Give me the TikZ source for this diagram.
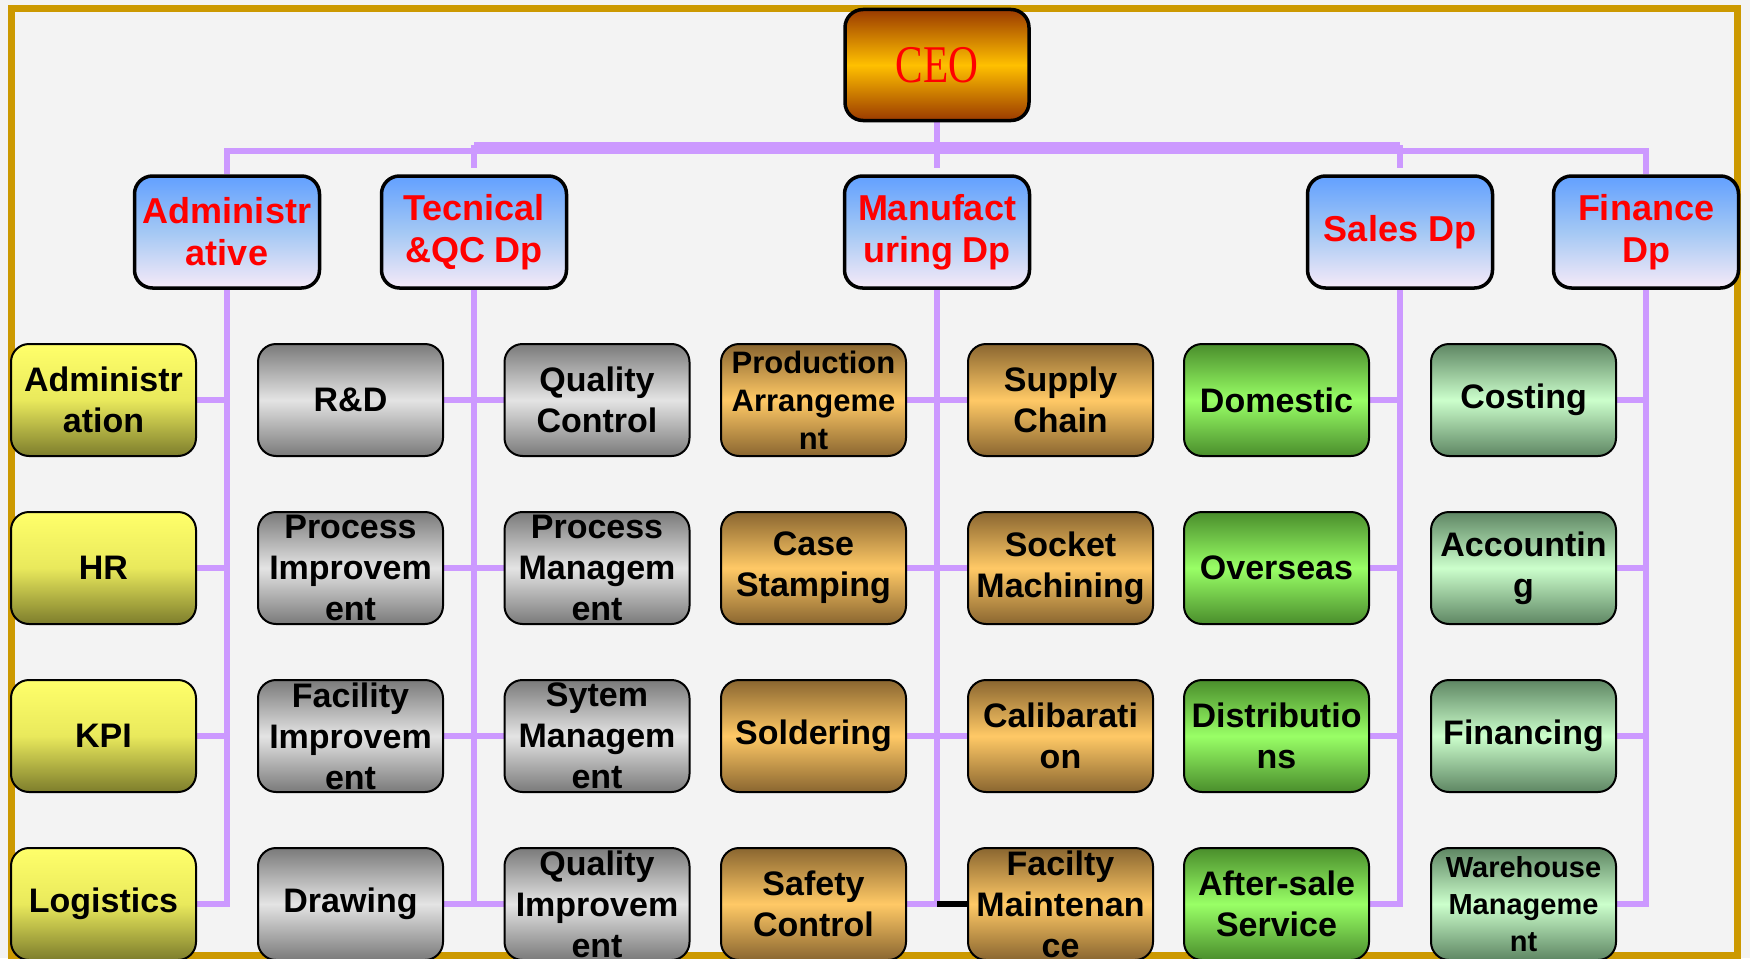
\documentclass[tikz,border=0pt]{standalone}
\usepackage{fontspec}
\usepackage{graphicx}
\setmainfont{Liberation Sans}
\newfontfamily\ceofont{Liberation Serif}
\usetikzlibrary{calc}
\definecolor{bgc}{HTML}{F3F3F3}
\definecolor{goldc}{HTML}{CC9900}
\definecolor{vio}{HTML}{CC99FF}
\definecolor{ceoE}{HTML}{9A3A00}
\definecolor{ceoM}{HTML}{FFC000}
\definecolor{depT}{HTML}{62A0FF}
\definecolor{depM}{HTML}{A4C8F4}
\definecolor{depB}{HTML}{F6EAF8}
\definecolor{yelT}{HTML}{FFFF6A}
\definecolor{yelM}{HTML}{E9E95C}
\definecolor{yelB}{HTML}{7D7D2C}
\definecolor{grE}{HTML}{7A7A7A}
\definecolor{grM}{HTML}{E4E4E4}
\definecolor{orE}{HTML}{8A6630}
\definecolor{orM}{HTML}{FFC966}
\definecolor{gnE}{HTML}{4A8E2C}
\definecolor{gnM}{HTML}{99FF66}
\definecolor{lgE}{HTML}{5E8663}
\definecolor{lgM}{HTML}{CCFFCC}
\pgfdeclarelayer{back}
\pgfsetlayers{back,main}
\tikzset{
  box/.style={rounded corners=18pt, draw=black, line width=2pt,
    minimum width=185pt, minimum height=112pt, inner sep=0pt, align=center,
    font=\fontsize{34}{41}\selectfont\bfseries},
  smalltext/.style={font=\fontsize{31}{38}\selectfont\bfseries},
  tinytext/.style={font=\fontsize{29}{37}\selectfont\bfseries},
  ceobox/.style={box, line width=3.5pt, minimum width=184pt, minimum height=111pt,
    top color=ceoE, bottom color=ceoE, middle color=ceoM, text=red,
    font=\ceofont\fontsize{53}{60}\selectfont},
  dept/.style={box, line width=3.5pt, top color=depT, bottom color=depB, middle color=depM,
    text=red, font=\fontsize{36}{42}\selectfont\bfseries},
  yel/.style={box, top color=yelT, bottom color=yelB, middle color=yelM},
  gry/.style={box, top color=grE, bottom color=grE, middle color=grM},
  org/.style={box, top color=orE, bottom color=orE, middle color=orM},
  grn/.style={box, top color=gnE, bottom color=gnE, middle color=gnM},
  lgr/.style={box, top color=lgE, bottom color=lgE, middle color=lgM},
  conn/.style={draw=vio, line width=6pt, line join=miter},
  bus/.style={draw=vio, line width=5.5pt, line join=miter},
  blackconn/.style={draw=black, line width=6pt}
}
\begin{document}
\begin{tikzpicture}[x=1pt,y=-1pt]
\useasboundingbox (0,0) rectangle (1750,958);
\clip (0,0) rectangle (1750,958);
% nodes
\node[ceobox] (ceo) at (937,65) {\scalebox{0.78}[1]{CEO}};
\node[dept] (adm) at (227,232) {Administr\\ative};
\node[dept] (tec) at (474,232) {Tecnical\\\&QC Dp};
\node[dept] (man) at (937,232) {Manufact\\uring Dp};
\node[dept] (sal) at (1400,232) {Sales Dp};
\node[dept] (fin) at (1646,232) {Finance\\Dp};
% column 1
\node[yel] (a1) at (103.5,400) {Administr\\ation};
\node[yel] (a2) at (103.5,568) {HR};
\node[yel] (a3) at (103.5,736) {KPI};
\node[yel] (a4) at (103.5,904) {Logistics};
% column 2
\node[gry] (b1) at (350.5,400) {R\&D};
\node[gry] (b2) at (350.5,568) {Process\\Improvem\\ent};
\node[gry] (b3) at (350.5,736) {Facility\\Improvem\\ent};
\node[gry] (b4) at (350.5,904) {Drawing};
% column 3
\node[gry] (c1) at (597,400) {Quality\\Control};
\node[gry] (c2) at (597,568) {Process\\Managem\\ent};
\node[gry] (c3) at (597,736) {Sytem\\Managem\\ent};
\node[gry] (c4) at (597,904) {Quality\\Improvem\\ent};
% column 4
\node[org, smalltext] (d1) at (813.5,400) {Production\\Arrangeme\\nt};
\node[org] (d2) at (813.5,568) {Case\\Stamping};
\node[org] (d3) at (813.5,736) {Soldering};
\node[org] (d4) at (813.5,904) {Safety\\Control};
% column 5
\node[org] (e1) at (1060.5,400) {Supply\\Chain};
\node[org] (e2) at (1060.5,568) {Socket\\Machining};
\node[org] (e3) at (1060.5,736) {Calibarati\\on};
\node[org] (e4) at (1060.5,904) {Facilty\\Maintenan\\ce};
% column 6
\node[grn] (f1) at (1276.5,400) {Domestic};
\node[grn] (f2) at (1276.5,568) {Overseas};
\node[grn] (f3) at (1276.5,736) {Distributio\\ns};
\node[grn] (f4) at (1276.5,904) {After-sale\\Service};
% column 7
\node[lgr] (g1) at (1523.5,400) {Costing};
\node[lgr] (g2) at (1523.5,568) {Accountin\\g};
\node[lgr] (g3) at (1523.5,736) {Financing};
\node[lgr, tinytext] (g4) at (1523.5,904) {Warehouse\\Manageme\\nt};
\begin{pgfonlayer}{back}
  \fill[bgc] (0,0) rectangle (1750,958);
  \draw[goldc, line width=7pt] (11,9) rectangle (1737,955);
  % top bus
  \coordinate (u1) at (474,145);
  \coordinate (u2) at (1400,145);
  \coordinate (l1) at (227,151);
  \coordinate (l2) at (1646,151);
  \coordinate (ts) at (474,168);
  \coordinate (cs) at (937,168);
  \coordinate (ss) at (1400,168);
  \draw[bus] (u1) -- (u2);
  \draw[bus] (adm.north) -- (l1) -- (l2) -- (fin.north);
  \draw[bus] (u1) -- (ts);
  \draw[bus] (ceo.south) -- (cs);
  \draw[bus] (u2) -- (ss);
  % Administrative
  \draw[conn] (adm.south) -- (adm.south |- a4.east) -- (a4.east);
  \foreach \n in {a1,a2,a3} \draw[conn] (\n.east) -- (\n.east -| adm.south);
  % Tecnical
  \draw[conn] (tec.south) -- (tec.south |- b4.east);
  \draw[conn] (b1.east) -- (c1.west);
  \draw[conn] (b2.east) -- (c2.west);
  \draw[conn] (b3.east) -- (c3.west);
  \draw[conn] (b4.east) -- (c4.west);
  % Manufacturing
  \draw[conn] (man.south) -- (man.south |- d4.east);
  \draw[conn] (d1.east) -- (e1.west);
  \draw[conn] (d2.east) -- (e2.west);
  \draw[conn] (d3.east) -- (e3.west);
  \draw[conn] (d4.east) -- (d4.east -| man.south);
  \draw[blackconn] (d4.east -| man.south) -- (e4.west);
  % Sales
  \draw[conn] (sal.south) -- (sal.south |- f4.east) -- (f4.east);
  \foreach \n in {f1,f2,f3} \draw[conn] (\n.east) -- (\n.east -| sal.south);
  % Finance
  \draw[conn] (fin.south) -- (fin.south |- g4.east) -- (g4.east);
  \foreach \n in {g1,g2,g3} \draw[conn] (\n.east) -- (\n.east -| fin.south);
\end{pgfonlayer}
\end{tikzpicture}
\end{document}
